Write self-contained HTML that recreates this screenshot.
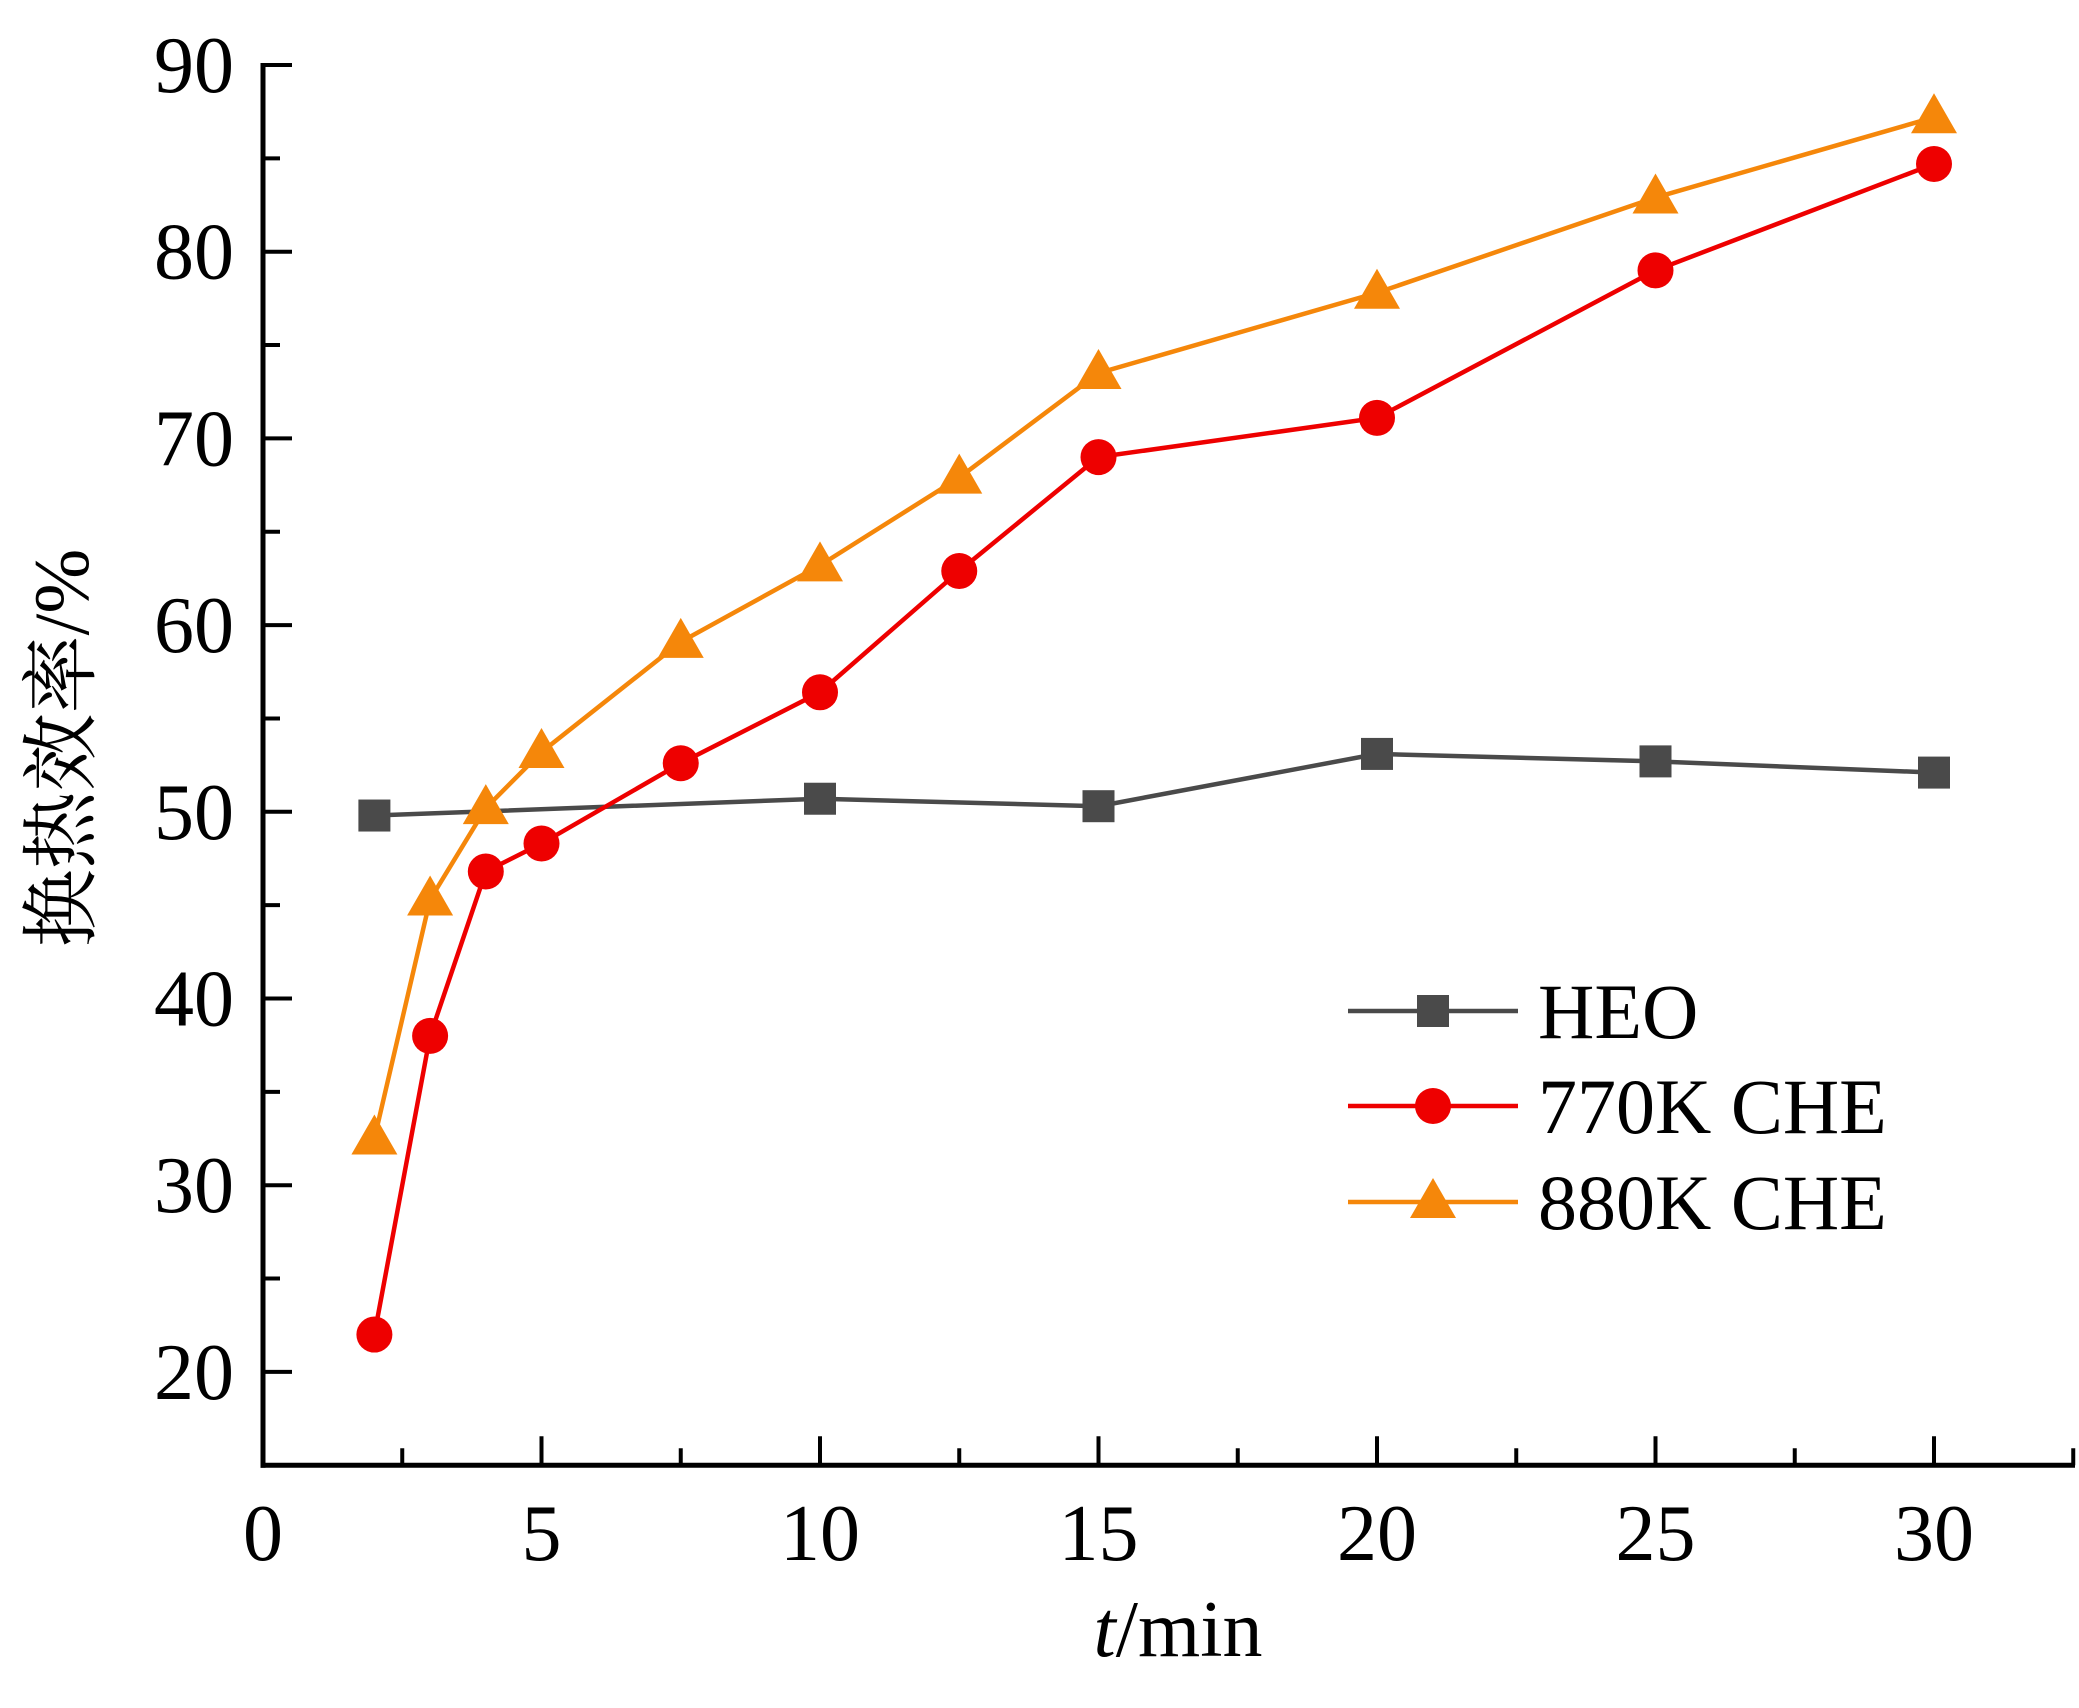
<!DOCTYPE html>
<html><head><meta charset="utf-8"><style>
html,body{margin:0;padding:0;background:#fff;}
svg{display:block;font-family:"Liberation Serif","Noto Serif CJK SC",serif;}
</style></head><body>
<svg id="chart" width="2079" height="1708" viewBox="0 0 2079 1708" xmlns="http://www.w3.org/2000/svg">
<g id="axes"></g>
<g id="series"></g>
<g id="legend"></g>
</svg>
<script>
const xTicks = [0,5,10,15,20,25,30];
const yTicks = [20,30,40,50,60,70,80,90];
const heoX = [2,10,15,20,25,30];
const heoY = [49.8,50.7,50.3,53.1,52.7,52.1];
const c770X = [2,3,4,5,7.5,10,12.5,15,20,25,30];
const c770Y = [22,38,46.8,48.3,52.6,56.4,62.9,69,71.1,79,84.7];
const c880X = [2,3,4,5,7.5,10,12.5,15,20,25,30];
const c880Y = [32.5,45.3,50.2,53.2,59.1,63.2,67.9,73.5,77.8,82.9,87.2];
const seriesNames = ["HEO","770K CHE","880K CHE"];

const NS="http://www.w3.org/2000/svg";
const X0=263, X1=2075, XMAX=(2075-263)/((1934-263)/30);
const YMIN=15, YMAX=90;
function sx(v){return X0+(v/XMAX)*(X1-X0);}
const yPer=18.67;
function sy(v){return 65+(90-v)*yPer;}
const YB=sy(YMIN);
function mk(tag,attrs,parent){const e=document.createElementNS(NS,tag);for(const k in attrs)e.setAttribute(k,attrs[k]);parent.appendChild(e);return e;}
const axes=document.getElementById('axes');
let a=mk('line',{x1:X0,y1:sy(YMAX)-2,x2:X0,y2:YB+2.5,stroke:'#000','stroke-width':5},axes);


a=mk('line',{x1:X0-2.5,y1:YB,x2:X1,y2:YB,stroke:'#000','stroke-width':5},axes);


for(let v=20;v<=90;v+=5){
  const major=v%10===0;
  const t=mk('line',{x1:X0,y1:sy(v),x2:X0+(major?29:17),y2:sy(v),stroke:'#000','stroke-width':4},axes);
  
  
}
yTicks.forEach(v=>{
  const t=mk('text',{x:234,y:sy(v)+27,'font-size':80,'text-anchor':'end',fill:'#000'},axes);
  t.textContent=v;
  
  
});
for(let v=2.5;v<=32.5;v+=2.5){
  const major=v%5===0;
  const t=mk('line',{x1:sx(v),y1:YB,x2:sx(v),y2:YB-(major?29:17),stroke:'#000','stroke-width':4},axes);
  
  
}
xTicks.forEach(v=>{
  const t=mk('text',{x:sx(v),y:1560,'font-size':80,'text-anchor':'middle',fill:'#000'},axes);
  t.textContent=v;
  
  
});
const xl=mk('text',{x:1178,y:1656,'font-size':80,'text-anchor':'middle',fill:'#000'},axes);
xl.innerHTML='<tspan font-style="italic">t</tspan>/min';


const yl=mk('text',{x:0,y:0,'font-size':78,'text-anchor':'middle',fill:'#000',transform:'translate(88,748) rotate(-90)'},axes);
yl.textContent='换热效率/%';



const ser=document.getElementById('series');
function marker(type,x,y,color,parent){
  let m;
  if(type==='sq') m=mk('rect',{x:x-16,y:y-16,width:32,height:32,fill:color},parent);
  else if(type==='ci') m=mk('circle',{cx:x,cy:y,r:18,fill:color},parent);
  else m=mk('polygon',{points:`${x},${y-24} ${x-23},${y+16} ${x+23},${y+16}`,fill:color},parent);
  return m;
}
function drawSeries(xs,ys,color,type,name){
  const g=mk('g',{},ser);
  
  
  const pts=xs.map((x,i)=>sx(x)+','+sy(ys[i])).join(' ');
  const l=mk('polyline',{points:pts,fill:'none',stroke:color,'stroke-width':4.5},g);
  
  
  xs.forEach((x,i)=>{
    const m=marker(type,sx(x),sy(ys[i]),color,g);
    
    
  });
}
drawSeries(heoX,heoY,'#4a4a4a','sq','heo');
drawSeries(c770X,c770Y,'#ee0000','ci','770k-che');
drawSeries(c880X,c880Y,'#f5870a','tr','880k-che');

const leg=document.getElementById('legend');
const rows=[[1011,'#4a4a4a','sq'],[1106,'#ee0000','ci'],[1202,'#f5870a','tr']];
rows.forEach((r,i)=>{
  const g=mk('g',{},leg);
  
  
  mk('line',{x1:1348,y1:r[0],x2:1518,y2:r[0],stroke:r[1],'stroke-width':4.5},g);
  marker(r[2],1433,r[0],r[1],g);
  const t=mk('text',{x:1538,y:r[0]+27,'font-size':78,fill:'#000'},g);
  t.textContent=seriesNames[i];
  
  
});
</script>
</body></html>
